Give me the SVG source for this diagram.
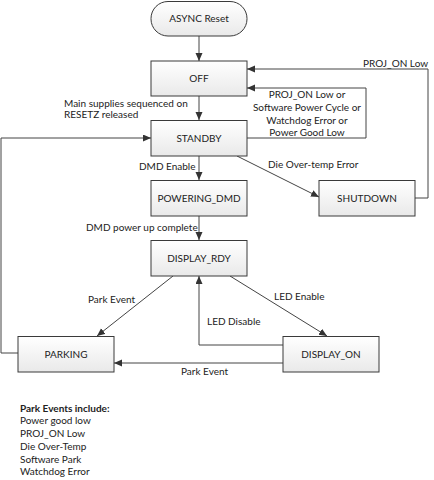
<svg xmlns="http://www.w3.org/2000/svg" width="434" height="480" viewBox="0 0 434 480">
<style>
.box{stroke:#3a3a3a;stroke-width:1;fill:url(#g)}
.lbl{font-family:Lato,"Liberation Sans",sans-serif;font-size:10px;fill:#222}
.c{text-anchor:middle}
.con path{fill:none;stroke:#444;stroke-width:1}
</style>
<defs>
<linearGradient id="g" x1="0" y1="0" x2="0" y2="1">
<stop offset="0" stop-color="#ffffff"/>
<stop offset="1" stop-color="#e9e9e9"/>
</linearGradient>
<marker id="a" markerUnits="userSpaceOnUse" markerWidth="9" markerHeight="8" refX="8" refY="3.5" orient="auto">
<path d="M0,0 L8,3.5 L0,7 z" fill="#333"/>
</marker>
</defs>
<rect width="434" height="480" fill="#fff"/>
<g class="con" id="connectors">
<path d="M199,36 V61" marker-end="url(#a)"/>
<path d="M199,96 V120" marker-end="url(#a)"/>
<path d="M247,138 H366 V88 H247" marker-end="url(#a)"/>
<path d="M415,198 H428 V69 H247" marker-end="url(#a)"/>
<path d="M237,156 L319,197" marker-end="url(#a)"/>
<path d="M199,156 V180" marker-end="url(#a)"/>
<path d="M199,216 V240" marker-end="url(#a)"/>
<path d="M173,276 L97,336" marker-end="url(#a)"/>
<path d="M230,276 L327,336" marker-end="url(#a)"/>
<path d="M283,345 H199 V276" marker-end="url(#a)"/>
<path d="M283,363 H114" marker-end="url(#a)"/>
<path d="M18,353 H1 V138 H151" marker-end="url(#a)"/>
</g>
<g id="async"><rect class="box" x="151" y="1.5" width="96" height="34.5" rx="17" ry="17"/><text class="lbl c" x="199" y="22">ASYNC Reset</text></g>
<g id="off"><rect class="box" x="151" y="61" width="96" height="35"/><text class="lbl c" x="199" y="82">OFF</text></g>
<g id="standby"><rect class="box" x="151" y="120.5" width="96" height="35.5"/><text class="lbl c" x="199" y="142">STANDBY</text></g>
<g id="powering"><rect class="box" x="151" y="180.5" width="96" height="35.5"/><text class="lbl c" x="199" y="202">POWERING_DMD</text></g>
<g id="displayrdy"><rect class="box" x="151" y="240.5" width="96" height="35.5"/><text class="lbl c" x="199" y="262">DISPLAY_RDY</text></g>
<g id="shutdown"><rect class="box" x="319" y="180.5" width="96" height="35.5"/><text class="lbl c" x="367" y="202">SHUTDOWN</text></g>
<g id="parking"><rect class="box" x="18" y="336.5" width="96" height="35.5"/><text class="lbl c" x="66" y="358">PARKING</text></g>
<g id="displayon"><rect class="box" x="283" y="336.5" width="96" height="35.5"/><text class="lbl c" x="331" y="358">DISPLAY_ON</text></g>
<g id="labels">
<text class="lbl" x="64" y="107">Main supplies sequenced on</text>
<text class="lbl" x="64" y="118">RESETZ released</text>
<text class="lbl" x="363" y="67">PROJ_ON Low</text>
<text class="lbl c" x="307" y="98">PROJ_ON Low or</text>
<text class="lbl c" x="307" y="111">Software Power Cycle or</text>
<text class="lbl c" x="307" y="124">Watchdog Error or</text>
<text class="lbl c" x="307" y="136">Power Good Low</text>
<text class="lbl" x="139" y="170">DMD Enable</text>
<text class="lbl" x="268" y="168">Die Over-temp Error</text>
<text class="lbl" x="86" y="231">DMD power up complete</text>
<text class="lbl" x="88" y="303">Park Event</text>
<text class="lbl" x="274" y="300">LED Enable</text>
<text class="lbl" x="207" y="325">LED Disable</text>
<text class="lbl" x="181" y="375">Park Event</text>
<text class="lbl" x="20" y="412" font-weight="bold">Park Events include:</text>
<text class="lbl" x="20" y="424">Power good low</text>
<text class="lbl" x="20" y="437">PROJ_ON Low</text>
<text class="lbl" x="20" y="450">Die Over-Temp</text>
<text class="lbl" x="20" y="463">Software Park</text>
<text class="lbl" x="20" y="475">Watchdog Error</text>
</g>
</svg>
